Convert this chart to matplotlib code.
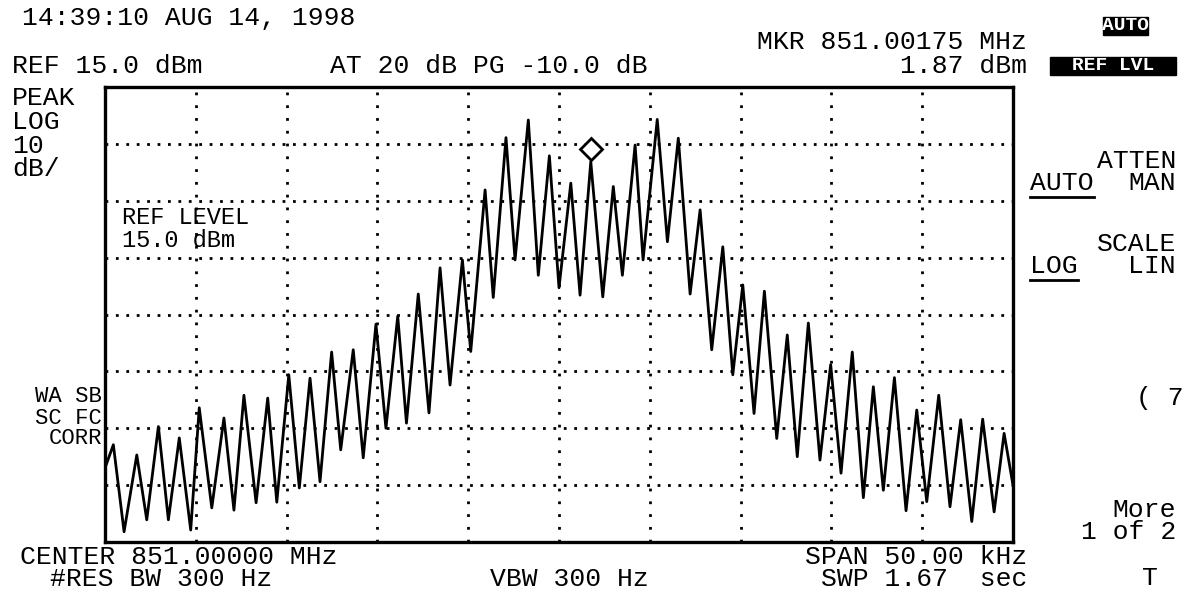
import matplotlib
matplotlib.use('Agg')
import matplotlib.pyplot as plt
import matplotlib.transforms as mtransforms
from matplotlib.patches import Rectangle
from matplotlib.lines import Line2D

# spectrum analyzer trace: alternating peaks / troughs
trace_khz = [-25.0, -24.54, -23.95, -23.25, -22.70, -22.06, -21.51, -20.91, -20.28, -19.81,
             -19.12, -18.45, -17.90, -17.35, -16.68, -16.04, -15.54, -14.88, -14.30, -13.71,
             -13.16, -12.52, -12.02, -11.33, -10.78, -10.08, -9.53, -8.88, -8.40, -7.75,
             -7.16, -6.55, -6.00, -5.32, -4.86, -4.07, -3.62, -2.92, -2.42, -1.69,
             -1.14, -0.53, 0.00, 0.65, 1.16, 1.75, 2.41, 2.99, 3.49, 4.19,
             4.63, 5.41, 5.97, 6.57, 7.22, 7.77, 8.41, 9.02, 9.57, 10.12,
             10.74, 11.31, 11.99, 12.57, 13.12, 13.73, 14.37, 14.96, 15.53, 16.15,
             16.76, 17.31, 17.86, 18.47, 19.11, 19.70, 20.25, 20.91, 21.53, 22.12,
             22.73, 23.33, 23.96, 24.51, 25.0]
trace_dbm = [-52.0, -47.9, -63.2, -49.7, -61.1, -44.7, -61.1, -46.7, -62.9, -41.4,
             -59.0, -43.2, -59.4, -39.2, -58.1, -39.7, -58.0, -35.6, -55.5, -36.2,
             -54.4, -31.6, -48.8, -31.2, -50.2, -26.7, -45.0, -25.3, -44.1, -21.4,
             -42.3, -16.8, -37.4, -15.4, -31.5, -3.1, -22.0, 6.1, -15.4, 9.2,
             -18.1, 2.9, -20.3, -1.9, -21.6, 1.87, -21.9, -2.5, -18.1, 4.8,
             -15.4, 9.3, -12.2, 6.0, -21.4, -6.6, -31.2, -13.1, -35.6, -19.8,
             -42.4, -20.9, -46.8, -28.6, -50.0, -26.5, -50.6, -33.8, -52.9, -31.6,
             -57.2, -37.7, -55.9, -36.1, -59.5, -41.8, -57.9, -39.2, -58.8, -43.5,
             -61.4, -43.4, -59.7, -45.9, -55.0]

ref_level = 15.0
db_per_div = 10
n_ydiv = 8
span_khz = 50.0
n_xdiv = 10
marker_khz = 1.75
marker_dbm = 1.87

W, H = 1188, 599
fig = plt.figure(figsize=(W / 100, H / 100), dpi=100, facecolor='white')
ax = fig.add_axes([105 / W, 1 - 542 / H, 908 / W, 455 / H])

ax.set_xlim(-span_khz / 2, span_khz / 2)
ax.set_ylim(ref_level - n_ydiv * db_per_div, ref_level)
ax.set_xticks([])
ax.set_yticks([])
for sp in ax.spines.values():
    sp.set_linewidth(2.4)

# dotted graticule
for i in range(1, n_xdiv):
    ax.axvline(-span_khz / 2 + i * span_khz / n_xdiv, color='black', lw=2.0,
               linestyle=(0, (1.0, 3.6)), zorder=1)
for i in range(1, n_ydiv):
    ax.axhline(ref_level - i * db_per_div, color='black', lw=2.0,
               linestyle=(0, (1.0, 2.75)), zorder=1)

ax.plot(trace_khz, trace_dbm, color='black', lw=2.0, zorder=3)

# marker diamond sits just above the marked peak
mk_trans = mtransforms.offset_copy(ax.transData, fig=fig, x=0, y=13, units='dots')
ax.plot([marker_khz], [marker_dbm], marker='D', ms=11, mfc='white', mec='black',
        mew=2.0, transform=mk_trans, zorder=4)

mono = 'Liberation Mono'
fs = 19


def label(x, y, s, ha='left', size=fs, **kw):
    return fig.text(x / W, 1 - y / H, s, ha=ha, va='center', family=mono, size=size, **kw)


label(22, 18, '14:39:10 AUG 14, 1998')
label(12, 66, 'REF 15.0 dBm')
label(330, 66, 'AT 20 dB PG -10.0 dB')
label(1027, 42, 'MKR 851.00175 MHz', ha='right')
label(1027, 66, '1.87 dBm', ha='right')

label(12, 98, 'PEAK')
label(12, 122, 'LOG')
label(12, 146, '10')
label(12, 169, 'dB/')
label(122, 218, 'REF LEVEL', size=17)
label(122, 241, '15.0 dBm', size=17)

label(102, 397, 'WA SB', ha='right', size=16)
label(102, 418, 'SC FC', ha='right', size=16)
label(102, 439, 'CORR', ha='right', size=16)

label(1176, 161, 'ATTEN', ha='right')
t_auto = label(1030, 183, 'AUTO')
label(1176, 183, 'MAN', ha='right')
label(1176, 244, 'SCALE', ha='right')
t_log = label(1030, 266, 'LOG')
label(1176, 266, 'LIN', ha='right')
label(1184, 398, '( 7', ha='right')
label(1176, 510, 'More', ha='right')
label(1176, 532, '1 of 2', ha='right')
label(1150, 578, 'T', ha='center')

label(20, 557, 'CENTER 851.00000 MHz')
label(1027, 557, 'SPAN 50.00 kHz', ha='right')
label(50, 579, '#RES BW 300 Hz')
label(490, 579, 'VBW 300 Hz')
label(1027, 579, 'SWP 1.67  sec', ha='right')

# underlines of the active softkey choices
fig.canvas.draw()
inv = fig.transFigure.inverted()
for t in (t_auto, t_log):
    bb = t.get_window_extent().transformed(inv)
    y = bb.y0 - 2 / H
    fig.add_artist(Line2D([bb.x0, bb.x1], [y, y], color='black', lw=2))

# inverse video status boxes
for x0, y0, w, h, s in [(1103, 17, 45, 18, 'AUTO'), (1050, 57, 126, 18, 'REF LVL')]:
    fig.add_artist(Rectangle((x0 / W, 1 - (y0 + h) / H), w / W, h / H,
                             transform=fig.transFigure, color='black'))
    label(x0 + w / 2, y0 + h / 2, s, ha='center', size=14, color='white', weight='bold')

fig.savefig('out.png', dpi=100, facecolor='white')
